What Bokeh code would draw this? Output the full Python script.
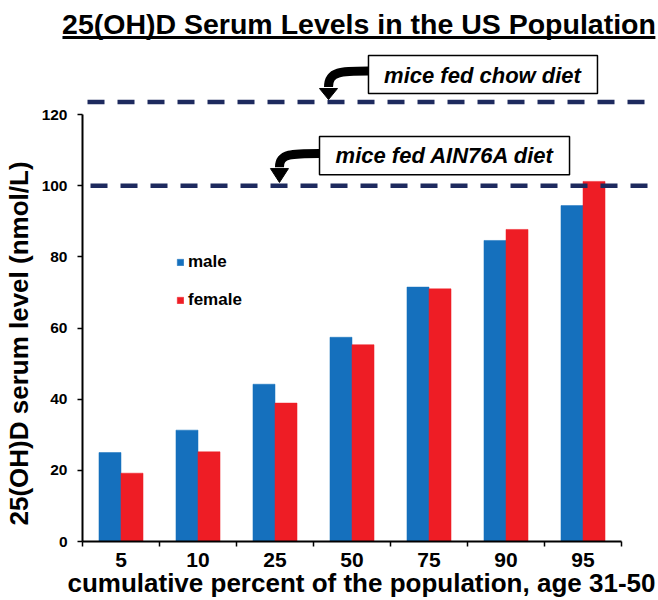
from bokeh.plotting import figure
from bokeh.models import (Range1d, FixedTicker, Label, BoxAnnotation,
                          Legend, LegendItem, ColumnDataSource)
from bokeh.embed import file_html
from bokeh.resources import INLINE
from bokeh.transform import dodge

# ---------------- data ----------------
percentiles = ["5", "10", "25", "50", "75", "90", "95"]
male = [25.0, 31.3, 44.2, 57.4, 71.5, 84.6, 94.4]
female = [19.2, 25.2, 38.9, 55.3, 71.0, 87.7, 101.2]
chow_level = 123.5
ain_level = 100.0
y_ticks = [0, 20, 40, 60, 80, 100, 120]

title_text = "25(OH)D Serum Levels in the US Population"
x_title = "cumulative percent of the population, age 31-50"
y_title = "25(OH)D serum level (nmol/L)"
chow_text = "mice fed chow diet"
ain_text = "mice fed AIN76A diet"

FONT = "Liberation Sans"
BLUE = "#1570BD"
RED = "#EE1D25"
NAVY = "#1D2A5E"

xpos = [i + 0.5 for i in range(len(percentiles))]
src = ColumnDataSource(dict(x=xpos, male=male, female=female))

W, H = 656, 600
p = figure(width=W, height=H, output_backend="svg", toolbar_location=None,
           x_range=Range1d(-82 / 77, (W - 82) / 77),
           y_range=Range1d((541 - H) / 3.5583, 541 / 3.5583),
           min_border_left=0, min_border_right=0, min_border_top=0,
           min_border_bottom=0)
p.outline_line_color = None
p.grid.visible = False
p.background_fill_color = "white"

r_m = p.vbar(x=dodge("x", -0.143, range=p.x_range), top="male", width=0.286,
             source=src, fill_color=BLUE, line_color=BLUE, line_width=0.5)
r_f = p.vbar(x=dodge("x", 0.143, range=p.x_range), top="female", width=0.286,
             source=src, fill_color=RED, line_color=RED, line_width=0.5)

# axes (drawn at fixed data locations inside the frame)
xa = p.xaxis[0]
xa.fixed_location = 0
xa.ticker = FixedTicker(ticks=xpos, minor_ticks=list(range(len(percentiles) + 1)))
xa.major_label_overrides = {x: lab for x, lab in zip(xpos, percentiles)}
xa.bounds = (0, len(percentiles))
xa.major_tick_line_color = None
xa.minor_tick_line_color = "black"
xa.minor_tick_line_width = 1.5
xa.minor_tick_out = 5
xa.minor_tick_in = 0
xa.axis_line_width = 2
xa.axis_line_color = "black"
xa.major_label_text_font = FONT
xa.major_label_text_font_style = "bold"
xa.major_label_text_font_size = "21px"
xa.major_label_text_color = "black"
xa.major_label_standoff = 5

ya = p.yaxis[0]
ya.fixed_location = 0
ya.ticker = FixedTicker(ticks=y_ticks, minor_ticks=[])
ya.bounds = (0, 120)
ya.major_tick_out = 5
ya.major_tick_in = 0
ya.major_tick_line_width = 1.5
ya.major_tick_line_color = "black"
ya.axis_line_width = 2
ya.axis_line_color = "black"
ya.major_label_text_font = FONT
ya.major_label_text_font_style = "bold"
ya.major_label_text_font_size = "15.5px"
ya.major_label_text_color = "black"
ya.major_label_standoff = 10

# reference lines (dashed)
p.segment(x0=[0.065], y0=[chow_level], x1=[7.36], y1=[chow_level],
          line_color=NAVY, line_width=4.5, line_dash="17 13")
p.segment(x0=[0.104], y0=[ain_level], x1=[7.36], y1=[ain_level],
          line_color=NAVY, line_width=4.5, line_dash="17 13")

# boxes with text
for l, r, b, t in [(3.714, 6.688, 125.9, 136.6), (3.078, 6.325, 103.1, 113.8)]:
    p.add_layout(BoxAnnotation(left=l, right=r, bottom=b, top=t,
                               fill_color="white", fill_alpha=1,
                               line_color="black", line_alpha=1,
                               line_width=1.5))
p.add_layout(Label(x=5.195, y=130.9, text=chow_text, text_align="center",
                   text_baseline="middle", text_font=FONT, text_color="black",
                   text_font_style="bold italic", text_font_size="22px"))
p.add_layout(Label(x=4.708, y=108.4, text=ain_text, text_align="center",
                   text_baseline="middle", text_font=FONT, text_color="black",
                   text_font_style="bold italic", text_font_size="22px"))

# curved arrows (shaft + head)
def curved_arrow(x0, y0, tx, ty, head_top, corner_dx):
    p.bezier(x0=[x0], y0=[y0], x1=[tx], y1=[head_top + 0.4],
             cx0=[tx + corner_dx], cy0=[y0], cx1=[tx], cy1=[y0],
             line_color="black", line_width=9)
    hw = 9 / 77
    p.patch([tx - hw, tx + hw, tx], [head_top, head_top, ty],
            fill_color="black", line_color="black")

curved_arrow(3.714, 132.2, 3.195, 124.2, 127.3, 0.16)
curved_arrow(3.078, 109.05, 2.558, 100.9, 104.8, 0.16)

# legend
legend = Legend(items=[LegendItem(label="male", renderers=[r_m]),
                       LegendItem(label="female", renderers=[r_f])],
                location=(176, 290), glyph_width=8, glyph_height=8,
                label_text_font=FONT, label_text_font_style="bold",
                label_text_font_size="17px", label_text_color="black",
                label_standoff=4, label_height=20, spacing=18, padding=0,
                margin=0, border_line_color=None, background_fill_alpha=0)
p.add_layout(legend)

# titles as labels
p.add_layout(Label(x=3.591, y=145.55, text=title_text, text_align="center",
                   text_baseline="middle", text_font=FONT, text_color="black",
                   text_font_style="bold", text_font_size="28.5px"))
p.add_layout(BoxAnnotation(left=-0.26, right=7.44, bottom=141.2, top=142.07,
                           fill_color="black", fill_alpha=1, line_color=None))
p.add_layout(Label(x=3.623, y=-11.6, text=x_title, text_align="center",
                   text_baseline="middle", text_font=FONT, text_color="black",
                   text_font_style="bold", text_font_size="26px"))
p.add_layout(Label(x=-0.83, y=55.65, text=y_title, angle=1.5708,
                   text_align="center", text_baseline="middle",
                   text_font=FONT, text_color="black", text_font_style="bold",
                   text_font_size="26px"))

open("out.html", "w").write(file_html(p, INLINE))
